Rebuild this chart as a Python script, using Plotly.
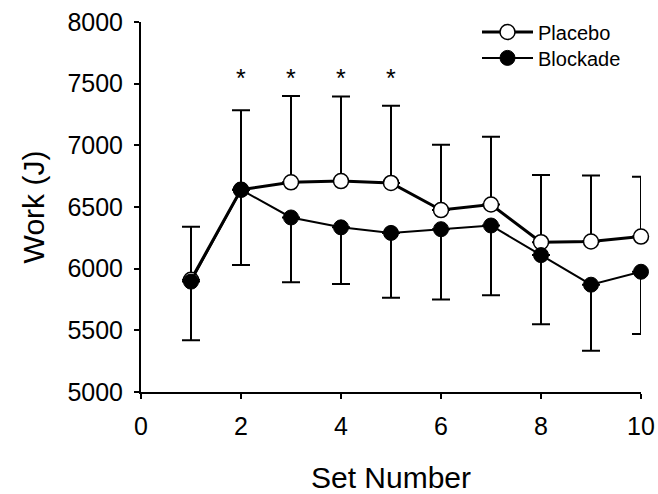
import plotly.graph_objects as go

sets = [1, 2, 3, 4, 5, 6, 7, 8, 9, 10]
placebo = [5910, 6640, 6700, 6710, 6695, 6475, 6520, 6215, 6220, 6260]
placebo_sd = [430, 645, 700, 685, 625, 530, 550, 545, 535, 485]
blockade = [5895, 6640, 6415, 6335, 6290, 6320, 6350, 6110, 5870, 5975]
blockade_sd = [475, 610, 525, 460, 525, 570, 565, 560, 535, 505]
star_sets = [2, 3, 4, 5]
star_level = 7550

font = "Liberation Sans, Arial, sans-serif"

fig = go.Figure()
fig.add_trace(go.Scatter(
    x=sets, y=placebo, name="Placebo", mode="lines+markers", cliponaxis=False,
    legend="legend",
    line=dict(color="black", width=3),
    marker=dict(symbol="circle", size=15, color="white", line=dict(color="black", width=1.5)),
    error_y=dict(type="data", array=placebo_sd, arrayminus=[0] * len(sets), symmetric=False,
                 color="black", thickness=2, width=9),
))
fig.add_trace(go.Scatter(
    x=sets, y=blockade, name="Blockade", mode="lines+markers", cliponaxis=False,
    legend="legend2",
    line=dict(color="black", width=2),
    marker=dict(symbol="circle", size=15, color="black", line=dict(color="black", width=1)),
    error_y=dict(type="data", array=[0] * len(sets), arrayminus=blockade_sd, symmetric=False,
                 color="black", thickness=2, width=9),
))
for s in star_sets:
    fig.add_annotation(x=s, y=star_level, text="*", showarrow=False,
                       font=dict(family=font, size=25, color="black"))

leg = dict(xanchor="left", yanchor="middle", bgcolor="rgba(0,0,0,0)",
           font=dict(size=20), itemwidth=51)
fig.update_layout(
    width=658, height=494,
    margin=dict(l=141, r=17, t=22, b=102),
    paper_bgcolor="white", plot_bgcolor="white",
    font=dict(family=font, size=25, color="black"),
    showlegend=True,
    legend=dict(x=0.672, y=0.973, **leg),
    legend2=dict(x=0.672, y=0.903, **leg),
)
fig.update_xaxes(range=[0, 10], tickvals=[0, 2, 4, 6, 8, 10], showline=True, linecolor="black",
                 linewidth=2, ticks="outside", ticklen=5, tickwidth=2, tickcolor="black",
                 showgrid=False, zeroline=False, ticklabelstandoff=6, automargin=False,
                 title=dict(text="Set Number", font=dict(size=30), standoff=30))
fig.update_yaxes(range=[5000, 8000], tickvals=[5000, 5500, 6000, 6500, 7000, 7500, 8000],
                 showline=True, linecolor="black", linewidth=2, ticks="outside", ticklen=5,
                 tickwidth=2, tickcolor="black", showgrid=False, zeroline=False,
                 ticklabelstandoff=6, automargin=False,
                 title=dict(text="Work (J)", font=dict(size=30), standoff=14))

fig.write_html("out.html")
